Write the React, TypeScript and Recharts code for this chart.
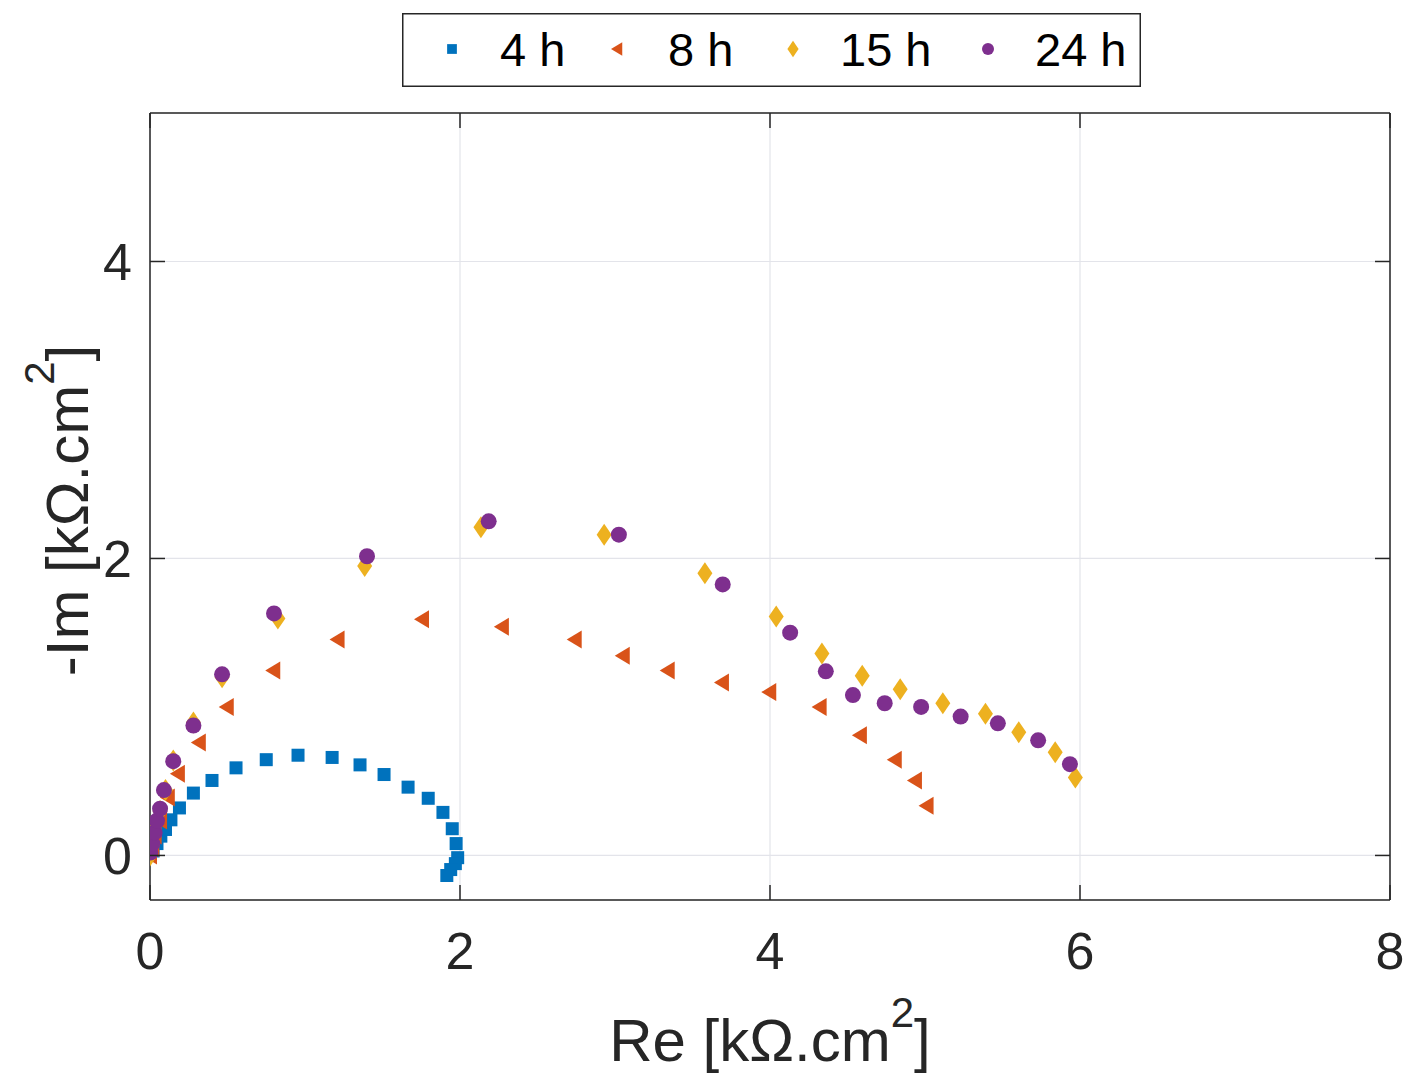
import React from 'react';
import {
  ScatterChart,
  Scatter,
  XAxis,
  YAxis,
  CartesianGrid,
  Legend,
  Label,
} from 'recharts';

// Nyquist data, Re / -Im in kΩ.cm², one pair of arrays per immersion time
const re4h = [0, 0.02, 0.045, 0.07, 0.1, 0.135, 0.19, 0.28, 0.4, 0.555, 0.75, 0.955, 1.175, 1.355, 1.51, 1.665, 1.795, 1.89, 1.95, 1.975, 1.985, 1.97, 1.94, 1.915];
const im4h = [0, 0.03, 0.08, 0.13, 0.175, 0.24, 0.32, 0.42, 0.505, 0.59, 0.645, 0.675, 0.66, 0.61, 0.545, 0.46, 0.385, 0.29, 0.18, 0.08, -0.015, -0.055, -0.095, -0.135];

const re8h = [0, 0.015, 0.03, 0.065, 0.115, 0.18, 0.315, 0.495, 0.795, 1.21, 1.755, 2.27, 2.74, 3.05, 3.34, 3.69, 3.995, 4.32, 4.58, 4.805, 4.935, 5.01];
const im8h = [0, 0.05, 0.135, 0.235, 0.39, 0.55, 0.76, 1.0, 1.245, 1.455, 1.59, 1.54, 1.455, 1.345, 1.245, 1.165, 1.1, 1.0, 0.81, 0.645, 0.505, 0.335];

const re15h = [0, 0.015, 0.03, 0.065, 0.1, 0.15, 0.28, 0.465, 0.825, 1.385, 2.135, 2.93, 3.58, 4.04, 4.335, 4.595, 4.84, 5.115, 5.39, 5.605, 5.84, 5.97];
const im15h = [0, 0.07, 0.17, 0.3, 0.44, 0.64, 0.895, 1.2, 1.595, 1.95, 2.21, 2.16, 1.9, 1.61, 1.36, 1.21, 1.12, 1.025, 0.955, 0.83, 0.695, 0.525];

const re24h = [0.002, 0.015, 0.03, 0.045, 0.065, 0.09, 0.15, 0.28, 0.465, 0.8, 1.4, 2.185, 3.025, 3.695, 4.13, 4.36, 4.535, 4.74, 4.975, 5.23, 5.47, 5.73, 5.935];
const im24h = [0.02, 0.08, 0.155, 0.235, 0.315, 0.44, 0.635, 0.875, 1.22, 1.63, 2.015, 2.25, 2.16, 1.825, 1.5, 1.24, 1.08, 1.025, 1.0, 0.935, 0.89, 0.775, 0.615];

const seriesNames = ['4 h', '8 h', '15 h', '24 h'];
const seriesColors = ['#0072BD', '#D95319', '#EDB120', '#7E2F8E'];
const seriesMarkers = ['square', 'triangle', 'diamond', 'circle'];

const xTicks = [0, 2, 4, 6, 8];
const yTicks = [0, 2, 4];
const xDomain = [0, 8];
const yDomain = [-0.3, 5];

const FONT = '"Liberation Sans", Arial, Helvetica, sans-serif';
const AXIS_COLOR = '#262626';
const GRID_COLOR = '#e3e4ea';

const zip = (re: number[], im: number[]) => re.map((r, i) => ({ re: r, im: im[i] }));

const series = [
  zip(re4h, im4h),
  zip(re8h, im8h),
  zip(re15h, im15h),
  zip(re24h, im24h),
].map((data, i) => ({
  name: seriesNames[i],
  color: seriesColors[i],
  marker: seriesMarkers[i],
  data,
}));

type MarkerProps = { kind: string; cx: number; cy: number; color: string; scale?: number };

function Marker({ kind, cx, cy, color, scale = 1 }: MarkerProps) {
  if (cx == null || cy == null || Number.isNaN(cx) || Number.isNaN(cy)) return null;
  const s = scale;
  if (kind === 'square') {
    const h = 6.5 * s;
    return <rect x={cx - h} y={cy - h} width={2 * h} height={2 * h} fill={color} />;
  }
  if (kind === 'triangle') {
    const pts = `${cx - 8 * s},${cy} ${cx + 7 * s},${cy - 9 * s} ${cx + 7 * s},${cy + 9 * s}`;
    return <polygon points={pts} fill={color} />;
  }
  if (kind === 'diamond') {
    const pts = `${cx},${cy - 11 * s} ${cx + 7.5 * s},${cy} ${cx},${cy + 11 * s} ${cx - 7.5 * s},${cy}`;
    return <polygon points={pts} fill={color} />;
  }
  return <ellipse cx={cx} cy={cy} rx={8 * s} ry={8 * s} fill={color} />;
}

// Tick renderers: labels outside, short tick marks drawn inward
const BottomTick = (props: any) => {
  const { x, y, payload } = props;
  return (
    <g>
      <line x1={x} y1={y} x2={x} y2={y - 15} stroke={AXIS_COLOR} strokeWidth={1.5} />
      <text x={x} y={y + 69} textAnchor="middle" fontFamily={FONT} fontSize={52} fill={AXIS_COLOR}>
        {payload.value}
      </text>
    </g>
  );
};

const TopTick = (props: any) => {
  const { x, y } = props;
  return <line x1={x} y1={y} x2={x} y2={y + 15} stroke={AXIS_COLOR} strokeWidth={1.5} />;
};

const LeftTick = (props: any) => {
  const { x, y, payload } = props;
  return (
    <g>
      <line x1={x} y1={y} x2={x + 15} y2={y} stroke={AXIS_COLOR} strokeWidth={1.5} />
      <text x={x - 18} y={y + 19} textAnchor="end" fontFamily={FONT} fontSize={52} fill={AXIS_COLOR}>
        {payload.value}
      </text>
    </g>
  );
};

const RightTick = (props: any) => {
  const { x, y } = props;
  return <line x1={x} y1={y} x2={x - 15} y2={y} stroke={AXIS_COLOR} strokeWidth={1.5} />;
};

const TITLE_SIZE = 60;
const SUP_SIZE = 42;
const SUP_SHIFT = 34;

const XTitle = (props: any) => {
  const { viewBox } = props;
  const cx = viewBox.x + viewBox.width / 2;
  const by = viewBox.y + 161;
  return (
    <text x={cx} y={by} textAnchor="middle" fontFamily={FONT} fontSize={TITLE_SIZE} fill={AXIS_COLOR}>
      <tspan>Re [kΩ.cm</tspan>
      <tspan fontSize={SUP_SIZE} dy={-SUP_SHIFT}>2</tspan>
      <tspan dy={SUP_SHIFT}>]</tspan>
    </text>
  );
};

const YTitle = (props: any) => {
  const { viewBox } = props;
  const cy = viewBox.y + viewBox.height / 2 + 4;
  const bx = 88;
  return (
    <text
      x={bx}
      y={cy}
      transform={`rotate(-90 ${bx} ${cy})`}
      textAnchor="middle"
      fontFamily={FONT}
      fontSize={TITLE_SIZE}
      fill={AXIS_COLOR}
    >
      <tspan>-Im [kΩ.cm</tspan>
      <tspan fontSize={SUP_SIZE} dy={-SUP_SHIFT}>2</tspan>
      <tspan dy={SUP_SHIFT}>]</tspan>
    </text>
  );
};

const LEGEND_W = 739;
const LEGEND_H = 74;
const legendMarkerX = [50, 215, 391, 586];
const legendTextX = [98, 266, 438, 633];

const LegendBox = () => (
  <svg width={LEGEND_W} height={LEGEND_H} style={{ display: 'block' }}>
    <rect x={0.75} y={0.75} width={LEGEND_W - 1.5} height={LEGEND_H - 1.5} fill="#fff" stroke={AXIS_COLOR} strokeWidth={1.5} />
    {series.map((s, i) => (
      <g key={s.name}>
        <Marker kind={s.marker} cx={legendMarkerX[i]} cy={36} color={s.color} scale={0.75} />
        <text x={legendTextX[i]} y={53} fontFamily={FONT} fontSize={47} fill="#000">
          {s.name}
        </text>
      </g>
    ))}
  </svg>
);

export default function App() {
  return (
    <div style={{ position: 'absolute', left: 0, top: 0, width: 1412, height: 1074, background: '#fff' }}>
      <ScatterChart
        width={1412}
        height={1074}
        margin={{ top: 112, right: 21, bottom: 114, left: 90 }}
      >
        <CartesianGrid stroke={GRID_COLOR} strokeWidth={1.2} />
        <XAxis
          type="number"
          dataKey="re"
          domain={xDomain}
          ticks={xTicks}
          allowDataOverflow
          height={60}
          tickSize={0}
          tickMargin={0}
          tickLine={false}
          tick={BottomTick}
          axisLine={{ stroke: AXIS_COLOR, strokeWidth: 1.5 }}
        >
          <Label content={XTitle} />
        </XAxis>
        <XAxis
          xAxisId="top"
          orientation="top"
          type="number"
          dataKey="re"
          domain={xDomain}
          ticks={xTicks}
          allowDataOverflow
          height={1}
          tickSize={0}
          tickMargin={0}
          tickLine={false}
          tick={TopTick}
          axisLine={{ stroke: AXIS_COLOR, strokeWidth: 1.5 }}
        />
        <YAxis
          type="number"
          dataKey="im"
          domain={yDomain}
          ticks={yTicks}
          allowDataOverflow
          width={60}
          tickSize={0}
          tickMargin={0}
          tickLine={false}
          tick={LeftTick}
          axisLine={{ stroke: AXIS_COLOR, strokeWidth: 1.5 }}
        >
          <Label content={YTitle} />
        </YAxis>
        <YAxis
          yAxisId="right"
          orientation="right"
          type="number"
          dataKey="im"
          domain={yDomain}
          ticks={yTicks}
          allowDataOverflow
          width={1}
          tickSize={0}
          tickMargin={0}
          tickLine={false}
          tick={RightTick}
          axisLine={{ stroke: AXIS_COLOR, strokeWidth: 1.5 }}
        />
        <Legend
          layout="horizontal"
          verticalAlign="middle"
          align="center"
          wrapperStyle={{ left: 402, top: 13, width: LEGEND_W, height: LEGEND_H }}
          content={LegendBox}
        />
        {series.map((s) => (
          <Scatter
            key={s.name}
            name={s.name}
            data={s.data}
            fill={s.color}
            isAnimationActive={false}
            shape={(p: any) => <Marker kind={s.marker} cx={p.cx} cy={p.cy} color={s.color} />}
          />
        ))}
      </ScatterChart>
    </div>
  );
}
